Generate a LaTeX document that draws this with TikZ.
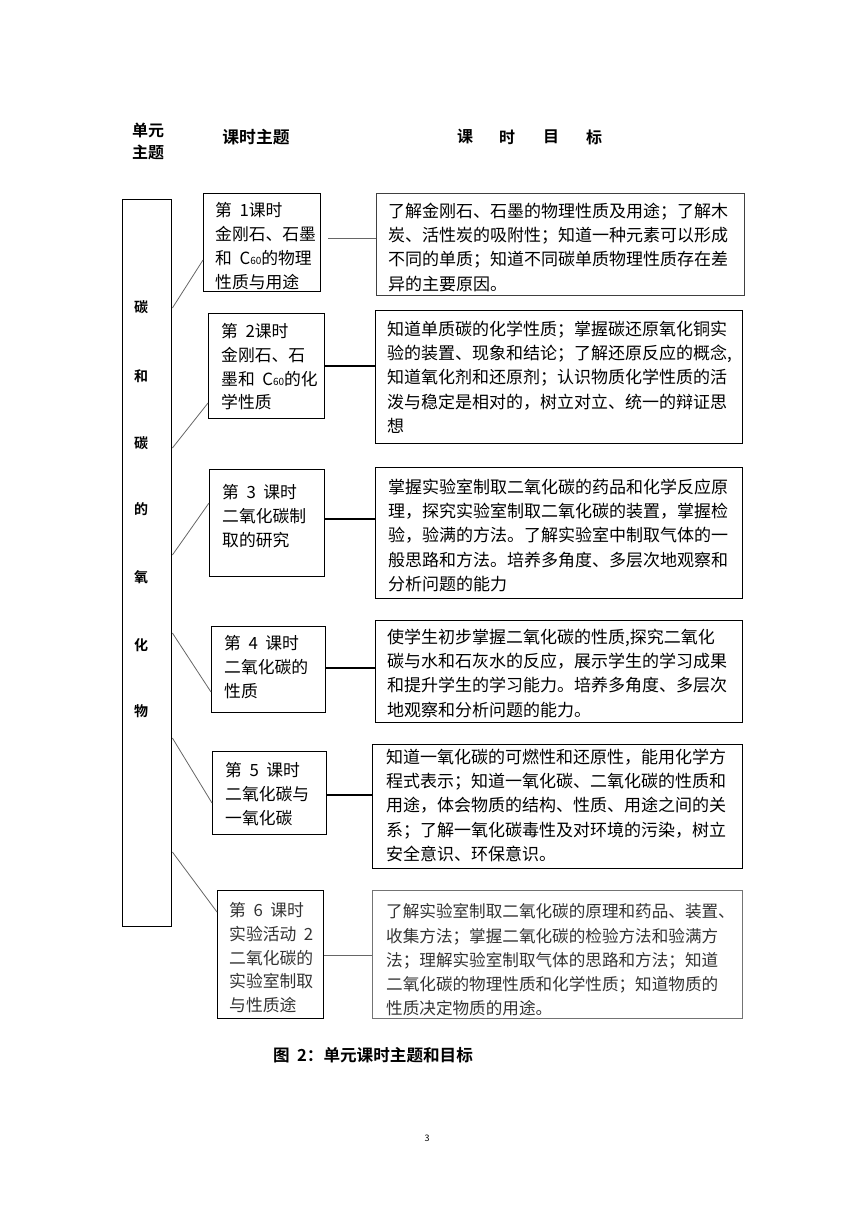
\documentclass[tikz,border=0pt]{standalone}
\usepackage{fontspec}
\newfontfamily\cjk{Noto Sans CJK SC}
\newfontfamily\cjkb{Noto Sans CJK SC Bold}
\begin{document}
\begin{tikzpicture}[x=1pt,y=-1pt,
  frame/.style={draw=black,line width=1.4pt,inner sep=0pt,anchor=north west},
  gframe/.style={draw=black!75,line width=1.3pt,inner sep=0pt,anchor=north west},
  txt/.style={inner sep=0pt,anchor=north west,align=left,font=\cjk\fontsize{17}{24.4}\selectfont},
  ltxt/.style={txt,font=\cjk\fontsize{16.8}{23.8}\selectfont},
  hdr/.style={inner sep=0pt,font=\cjkb\fontsize{16}{22}\selectfont},
  side/.style={inner sep=0pt,font=\cjkb\fontsize{14}{14}\selectfont},
  link/.style={draw=black!60,line width=0.8pt},
  hlink/.style={draw=black,line width=1.2pt}]
\useasboundingbox (0,0) rectangle (860,1216);
\newcommand{\Csixty}{C{\fontsize{10}{10}\selectfont 60}}
\newcommand{\wsp}{\hspace{0.45em}}
% headers
\node[hdr] (h1) at (148,130) {单元};
\node[hdr] (h2) at (148,152) {主题};
\node[hdr,font=\cjkb\fontsize{16.8}{22}\selectfont] (h3) at (256,137) {课时主题};
\node[hdr] (h4) at (465,137) {课};
\node[hdr] (h5) at (507,137) {时};
\node[hdr] (h6) at (551,137) {目};
\node[hdr] (h7) at (594,137) {标};
% left tall box
\node[frame,minimum width=49pt,minimum height=727pt] (L) at (122,199) {};
\node[side] (s1) at (141,307) {碳};
\node[side] (s2) at (141,376) {和};
\node[side] (s3) at (141,443) {碳};
\node[side] (s4) at (141,509) {的};
\node[side] (s5) at (141,577) {氧};
\node[side] (s6) at (141,645) {化};
\node[side] (s7) at (141,711) {物};
% lesson boxes
\node[frame,minimum width=117pt,minimum height=98pt] (L1) at (203,193) {};
\node[frame,minimum width=116pt,minimum height=105pt] (L2) at (208,313) {};
\node[frame,minimum width=115pt,minimum height=107pt] (L3) at (209,469) {};
\node[frame,minimum width=114pt,minimum height=86pt] (L4) at (211,626) {};
\node[frame,minimum width=114pt,minimum height=83pt] (L5) at (212,751) {};
\node[frame,minimum width=106pt,minimum height=128pt] (L6) at (217,890) {};
\node[ltxt] (t1) at (215,202.5) {第\wsp 1课时\\金刚石、石墨\\和\wsp\Csixty 的物理\\性质与用途};
\node[ltxt] (t2) at (221,323) {第\wsp 2课时\\金刚石、石\\墨和\wsp\Csixty 的化\\学性质};
\node[ltxt] (t3) at (222,484) {第\wsp 3\wsp 课时\\二氧化碳制\\取的研究};
\node[ltxt] (t4) at (224,635) {第\wsp 4\wsp 课时\\二氧化碳的\\性质};
\node[ltxt] (t5) at (225,762) {第\wsp 5\wsp 课时\\二氧化碳与\\一氧化碳};
\node[ltxt,text=black!80] (t6) at (229,902) {第\wsp 6\wsp 课时\\实验活动\wsp 2\\二氧化碳的\\实验室制取\\与性质途};
% goal boxes
\node[gframe,minimum width=368pt,minimum height=102pt] (G1) at (376,193) {};
\node[frame,minimum width=367pt,minimum height=133pt] (G2) at (375,310) {};
\node[frame,minimum width=367pt,minimum height=131pt] (G3) at (375,467) {};
\node[frame,minimum width=367pt,minimum height=102pt] (G4) at (375,620) {};
\node[frame,minimum width=370pt,minimum height=124pt] (G5) at (372,744) {};
\node[gframe,draw=black!55,minimum width=370pt,minimum height=128pt] (G6) at (372,890) {};
\node[txt] (g1) at (388,202.5) {了解金刚石、石墨的物理性质及用途；了解木\\炭、活性炭的吸附性；知道一种元素可以形成\\不同的单质；知道不同碳单质物理性质存在差\\异的主要原因。};
\node[txt] (g2) at (387,320.5) {知道单质碳的化学性质；掌握碳还原氧化铜实\\验的装置、现象和结论；了解还原反应的概念,\\知道氧化剂和还原剂；认识物质化学性质的活\\泼与稳定是相对的，树立对立、统一的辩证思\\想};
\node[txt] (g3) at (388,478.5) {掌握实验室制取二氧化碳的药品和化学反应原\\理，探究实验室制取二氧化碳的装置，掌握检\\验，验满的方法。了解实验室中制取气体的一\\般思路和方法。培养多角度、多层次地观察和\\分析问题的能力};
\node[txt] (g4) at (387,628.5) {使学生初步掌握二氧化碳的性质,探究二氧化\\碳与水和石灰水的反应，展示学生的学习成果\\和提升学生的学习能力。培养多角度、多层次\\地观察和分析问题的能力。};
\node[txt] (g5) at (386,748.5) {知道一氧化碳的可燃性和还原性，能用化学方\\程式表示；知道一氧化碳、二氧化碳的性质和\\用途，体会物质的结构、性质、用途之间的关\\系；了解一氧化碳毒性及对环境的污染，树立\\安全意识、环保意识。};
\node[txt,text=black!80,font=\cjk\fontsize{16.6}{24.2}\selectfont] (g6) at (386,903.5) {了解实验室制取二氧化碳的原理和药品、装置、\\收集方法；掌握二氧化碳的检验方法和验满方\\法；理解实验室制取气体的思路和方法；知道\\二氧化碳的物理性质和化学性质；知道物质的\\性质决定物质的用途。};
% connectors from unit box
\draw[link] (L.east |- 0,308) -- (L1.west |- 0,260);
\draw[link] (L.east |- 0,448) -- (L2.west |- 0,403);
\draw[link] (L.east |- 0,555) -- (L3.west |- 0,503);
\draw[link] (L.east |- 0,633) -- (L4.west |- 0,692);
\draw[link] (L.east |- 0,738) -- (L5.west |- 0,803);
\draw[link] (L.east |- 0,852) -- (L6.west |- 0,912);
% connectors to goals
\draw[link,line width=1pt] ([xshift=7pt]L1.east |- 0,238) -- (G1.west |- 0,238);
\draw[hlink] (L2.east |- 0,366) -- (G2.west |- 0,366);
\draw[hlink] (L3.east |- 0,519) -- (G3.west |- 0,519);
\draw[hlink,line width=1.8pt] (L4.east |- 0,668) -- (G4.west |- 0,668);
\draw[hlink,line width=1.6pt] (L5.east |- 0,795) -- (G5.west |- 0,795);
\draw[link] (L6.east |- 0,955) -- (G6.west |- 0,955);
% caption and page number
\node[hdr,font=\cjkb\fontsize{16.6}{20}\selectfont] (cap) at (373,1055) {图\wsp 2：单元课时主题和目标};
\node[inner sep=0pt,font=\cjk\fontsize{9}{10}\selectfont] (pg) at (427,1138) {3};
\end{tikzpicture}
\end{document}
